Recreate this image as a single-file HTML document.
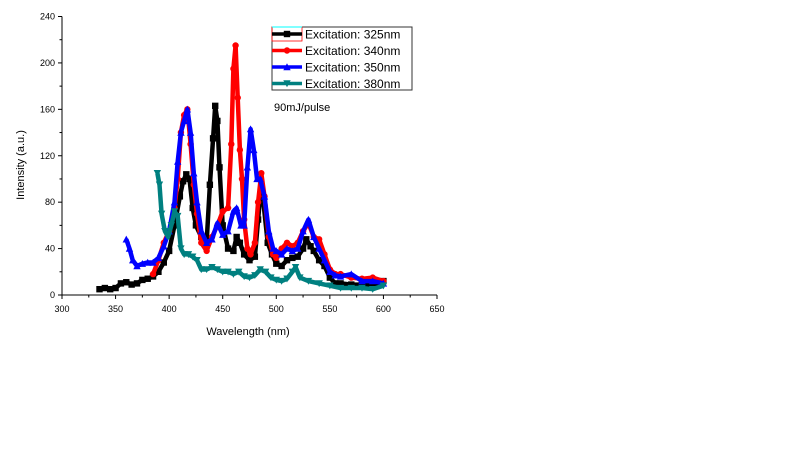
<!DOCTYPE html>
<html><head><meta charset="utf-8">
<style>
html,body{margin:0;padding:0;background:#fff;}
svg{display:block;font-family:"Liberation Sans",sans-serif;}
</style></head>
<body>
<svg id="chart" width="800" height="449" viewBox="0 0 800 449">
<rect x="0" y="0" width="800" height="449" fill="#fff"/>
<g id="axes"></g>
<g id="series"></g>
<g id="legend"></g>
<text x="274" y="111" font-size="11" fill="#000">90mJ/pulse</text>
<text x="248" y="335" font-size="11" text-anchor="middle" fill="#000">Wavelength (nm)</text>
<text transform="translate(24,165) rotate(-90)" font-size="11" text-anchor="middle" fill="#000">Intensity (a.u.)</text>
</svg>
<script>
const xTicks=[300,350,400,450,500,550,600,650];
const yTicks=[0,40,80,120,160,200,240];
const seriesNames=["Excitation: 325nm","Excitation: 340nm","Excitation: 350nm","Excitation: 380nm"];
const x325=[335,340,345,350,355,360,365,370,375,380,385,390,395,400,405,410,413,416,419,422,425,430,435,438,441,443,445,447,450,455,460,463,466,470,475,480,483,486,488,492,496,500,505,510,515,520,525,528,532,535,540,545,550,555,560,570,580,590,600];
const y325=[5,6,5,6,10,11,9,10,13,14,16,20,28,38,60,85,98,104,100,75,60,50,45,95,135,163,150,110,60,40,38,50,45,35,30,33,65,95,80,45,35,27,25,30,32,33,40,48,42,38,30,25,15,10,10,9,9,8,12];
const x340=[385,390,395,400,405,408,411,414,417,420,423,426,430,435,440,445,450,455,458,460,462,464,466,468,470,473,476,480,483,486,489,493,497,500,505,510,515,520,525,530,535,540,545,550,555,560,570,580,590,600];
const y340=[18,30,45,55,75,100,140,155,160,130,95,70,45,38,50,60,72,75,130,195,215,170,125,100,65,40,35,45,80,105,85,50,35,32,40,45,42,45,55,62,50,48,35,22,18,18,15,14,15,12];
const x350=[360,363,366,370,375,380,385,390,395,400,405,408,411,414,417,420,423,426,430,435,440,445,450,455,460,463,467,470,473,476,479,482,485,489,493,497,500,505,510,515,520,525,530,535,540,545,550,555,560,570,580,590,600];
const y350=[48,40,30,25,27,28,28,32,42,55,80,115,140,150,160,140,105,80,55,45,48,62,52,55,72,75,60,60,110,143,125,100,100,85,55,40,38,35,40,38,40,55,65,50,40,30,20,17,16,18,12,12,10];
const x380=[389,391,393,396,399,402,405,408,411,414,418,422,426,430,435,440,445,450,455,460,465,470,475,480,485,490,495,500,505,510,515,518,522,530,540,550,560,570,580,590,600];
const y380=[105,95,70,55,50,60,72,68,40,35,35,33,30,22,22,24,22,20,20,18,20,16,15,17,22,20,15,13,12,14,20,24,15,12,10,8,6,6,6,5,8];

const NS="http://www.w3.org/2000/svg";
const X0=62,X1=437,Y0=295,Y1=16.5;
const xs=v=>X0+(v-300)*(X1-X0)/350;
const ys=v=>Y0-v*(Y0-Y1)/240;
function mk(tag,attrs,parent){const e=document.createElementNS(NS,tag);for(const k in attrs)e.setAttribute(k,attrs[k]);parent.appendChild(e);return e;}
const axes=document.getElementById('axes');
let a=mk('line',{x1:X0,y1:Y0,x2:X1,y2:Y0,stroke:'#000','stroke-width':1},axes);


a=mk('line',{x1:X0,y1:Y0,x2:X0,y2:Y1,stroke:'#000','stroke-width':1},axes);


xTicks.forEach((t,i)=>{
  mk('line',{x1:xs(t),y1:Y0,x2:xs(t),y2:Y0+4,stroke:'#000'},axes);
  if(i<xTicks.length-1)mk('line',{x1:xs(t+25),y1:Y0,x2:xs(t+25),y2:Y0+2.5,stroke:'#000'},axes);
  const tx=mk('text',{x:xs(t),y:Y0+17,'font-size':9,'text-anchor':'middle',fill:'#000'},axes);
  tx.textContent=t;
  
  
});
yTicks.forEach((t,i)=>{
  mk('line',{x1:X0-4,y1:ys(t),x2:X0,y2:ys(t),stroke:'#000'},axes);
  if(i<yTicks.length-1)mk('line',{x1:X0-2.5,y1:ys(t+20),x2:X0,y2:ys(t+20),stroke:'#000'},axes);
  const ty=mk('text',{x:X0-7,y:ys(t)+3,'font-size':9,'text-anchor':'end',fill:'#000'},axes);
  ty.textContent=t;
  
  
});
const colors=['#000000','#ff0000','#0000ff','#008080'];
const shapes=['square','circle','tri','itri'];
function marker(g,cx,cy,shape,c){
  const s=3.2;
  if(shape==='square')return mk('rect',{x:cx-s,y:cy-s,width:2*s,height:2*s,fill:c},g);
  if(shape==='circle')return mk('circle',{cx:cx,cy:cy,r:s,fill:c},g);
  if(shape==='tri')return mk('polygon',{points:`${cx},${cy-s-0.5} ${cx-s-0.5},${cy+s} ${cx+s+0.5},${cy+s}`,fill:c},g);
  return mk('polygon',{points:`${cx},${cy+s+0.5} ${cx-s-0.5},${cy-s} ${cx+s+0.5},${cy-s}`,fill:c},g);
}
const data=[[x325,y325],[x340,y340],[x350,y350],[x380,y380]];
const names=['series-325nm','series-340nm','series-350nm','series-380nm'];
const sg=document.getElementById('series');
data.forEach((d,i)=>{
  const g=mk('g',{},sg);
  
  
  const pts=d[0].map((x,j)=>xs(x).toFixed(1)+','+ys(d[1][j]).toFixed(1)).join(' ');
  mk('polyline',{points:pts,fill:'none',stroke:colors[i],'stroke-width':4.5,'stroke-linejoin':'round'},g);
  d[0].forEach((x,j)=>{
    const m=marker(g,xs(x),ys(d[1][j]),shapes[i],colors[i]);
    
    
  });
});
const lg=document.getElementById('legend');
mk('rect',{x:272,y:27,width:140,height:63,fill:'none',stroke:'#333','stroke-width':1},lg);
mk('rect',{x:272,y:27,width:30,height:14,fill:'none',stroke:'#ff0000','stroke-width':0.8},lg);
mk('line',{x1:272,y1:27,x2:302,y2:27,stroke:'#00ffff','stroke-width':1},lg);
seriesNames.forEach((n,i)=>{
  const y=34+i*16.5;
  const g=mk('g',{},lg);
  
  
  mk('line',{x1:272,y1:y,x2:302,y2:y,stroke:colors[i],'stroke-width':3.5},g);
  marker(g,287,y,shapes[i],colors[i]);
  const t=mk('text',{x:305,y:y+4.5,'font-size':12,fill:'#000'},g);
  t.textContent=n;
});
</script>
</body></html>
